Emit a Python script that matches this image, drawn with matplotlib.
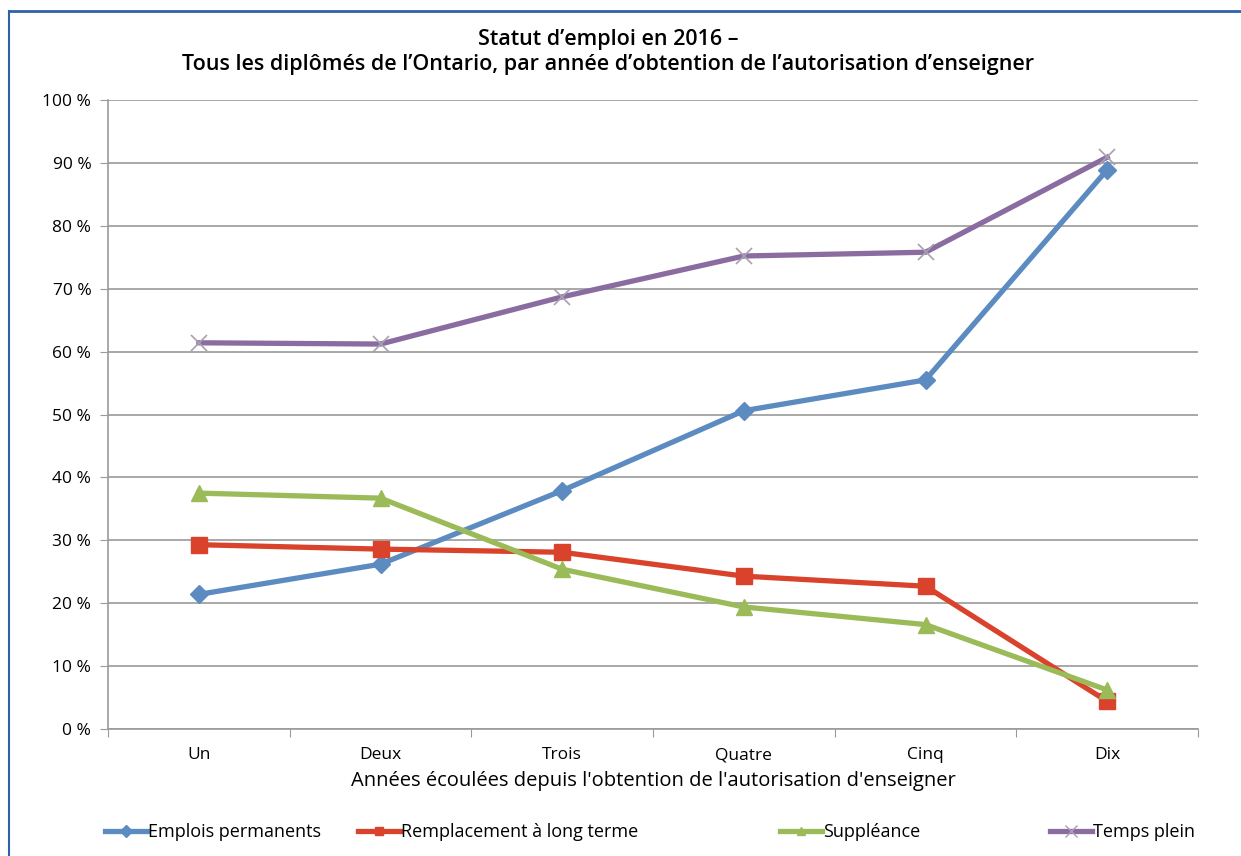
import matplotlib.pyplot as plt
from matplotlib.lines import Line2D
from matplotlib.ticker import FuncFormatter, FixedLocator, NullFormatter

plt.rcParams['font.family'] = ['Open Sans', 'DejaVu Sans']
plt.rcParams['font.weight'] = 'medium'

# Données
annees = ['Un', 'Deux', 'Trois', 'Quatre', 'Cinq', 'Dix']
emplois_permanents = [21.4, 26.2, 37.9, 50.6, 55.5, 88.9]
remplacement_long_terme = [29.3, 28.6, 28.1, 24.3, 22.7, 4.4]
suppleance = [37.5, 36.7, 25.4, 19.4, 16.6, 6.2]
temps_plein = [61.4, 61.2, 68.7, 75.2, 75.8, 90.9]

fig = plt.figure(figsize=(12.41, 8.56), dpi=100)
ax = fig.add_axes([108 / 1241, 1 - 729 / 856, 1090 / 1241, 629 / 856])

x = list(range(len(annees)))
series = [
    (emplois_permanents, 'Emplois permanents', '#5B8BC0', 'D', 9),
    (remplacement_long_terme, 'Remplacement à long terme', '#D9432B', 's', 12),
    (suppleance, 'Suppléance', '#9BBB59', '^', 11),
    (temps_plein, 'Temps plein', '#8A6CA0', 'x', 11),
]
for vals, label, color, marker, ms in series:
    if marker == 'x':
        ax.plot(x, vals, color=color, linewidth=3.8, zorder=3)
        ax.plot(x, vals, linestyle='none', marker='x', markersize=ms,
                markeredgecolor='#A8A0B0', markeredgewidth=1.2, zorder=4)
    else:
        ax.plot(x, vals, color=color, linewidth=3.8, marker=marker,
                markersize=ms, markeredgecolor=color, zorder=3)

ax.set_xlim(-0.5, 5.5)
ax.set_ylim(0, 100)
ax.set_yticks(range(0, 101, 10))
ax.yaxis.set_major_formatter(FuncFormatter(lambda v, p: f'{int(v)} %'))
ax.grid(axis='y', color='#9A9A9A', linewidth=1.2)
ax.set_axisbelow(True)

# étiquettes au centre, traits entre les catégories
ax.xaxis.set_major_locator(FixedLocator([i - 0.5 for i in range(7)]))
ax.xaxis.set_major_formatter(NullFormatter())
ax.xaxis.set_minor_locator(FixedLocator(x))
ax.set_xticklabels(annees, minor=True)
ax.tick_params(axis='x', which='minor', length=0, labelsize=12.5, pad=13)
ax.tick_params(axis='x', which='major', length=6, color='#9A9A9A')
ax.tick_params(axis='y', length=6, color='#9A9A9A', labelsize=12.5, pad=6)

for s in ['top', 'right']:
    ax.spines[s].set_visible(False)
for s in ['left', 'bottom']:
    ax.spines[s].set_color('#9A9A9A')
    ax.spines[s].set_linewidth(1.2)

ax.set_xlabel("Années écoulées depuis l'obtention de l'autorisation d'enseigner",
              fontsize=14.5, labelpad=6)
fig.text(0.49, 1 - 52 / 856,
         "Statut d’emploi en 2016 –\nTous les diplômés de l’Ontario, par année d’obtention de l’autorisation d’enseigner",
         ha='center', va='center', fontsize=15.5, fontweight='semibold', linespacing=1.3)

# légende : une entrée par position
leg_x = [105, 358, 780, 1050]
for (vals, label, color, marker, ms), lx in zip(series, leg_x):
    if marker == 'x':
        h = Line2D([], [], color=color, linewidth=3.8, marker='x',
                   markersize=8, markeredgecolor='#A8A0B0', label=label)
    else:
        h = Line2D([], [], color=color, linewidth=3.8, marker=marker,
                   markersize=6, markeredgecolor=color, label=label)
    leg = fig.legend(handles=[h], loc='center left', frameon=False,
                     bbox_to_anchor=(lx / 1241, 1 - 832 / 856),
                     fontsize=13, handlelength=2.3, handletextpad=0.1,
                     borderpad=0, borderaxespad=0)

# cadre bleu
fig.add_artist(Line2D([9 / 1241, 1], [1 - 11 / 856, 1 - 11 / 856],
                      color='#2E62A8', linewidth=2, transform=fig.transFigure))
fig.add_artist(Line2D([9 / 1241, 9 / 1241], [0, 1 - 11 / 856],
                      color='#2E62A8', linewidth=1.5, transform=fig.transFigure))

fig.savefig('out.png', dpi=100)
